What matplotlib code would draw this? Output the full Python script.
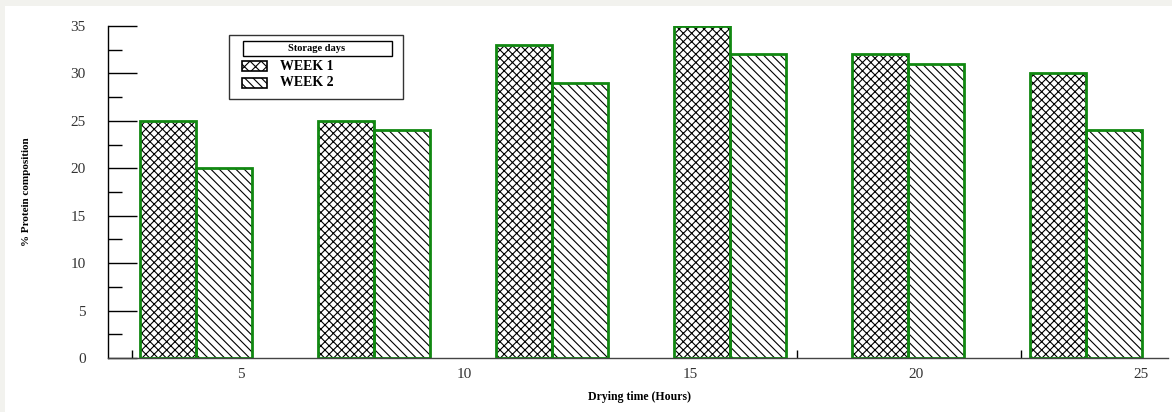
import matplotlib.pyplot as plt
from matplotlib.patches import Rectangle
import numpy as np

plt.rcParams['font.family'] = ['Liberation Serif', 'DejaVu Serif']

# data
groups = np.arange(6)
week1 = [25, 25, 33, 35, 32, 30]
week2 = [20, 24, 29, 32, 31, 24]
hour_labels = ["5", "10", "15", "20", "25"]
hour_pos = [0.253, 1.506, 2.775, 4.045, 5.31]
bottom_ticks = [-0.36, 1.506, 3.376, 4.635]

W, H = 1172, 412
fig = plt.figure(figsize=(W / 100, H / 100), dpi=100, facecolor='#f2f2ee')


def fx(px):
    return px / W


def fy(py):
    return 1 - py / H


# white page area
fig.patches.append(Rectangle((fx(5), 0), 1, fy(6), transform=fig.transFigure,
                             facecolor='white', edgecolor='none', zorder=-1))

ax = fig.add_axes([fx(108), fy(358), (1168 - 108) / W, (358 - 26) / H])
ax.set_facecolor('none')

bw = 0.315
green = '#118811'
plt.rcParams['hatch.linewidth'] = 0.8
hatch1 = 'xxxx'
hatch2 = '\\\\\\\\'

# hatched fill (black), then green outline on top
ax.bar(groups - bw / 2, week1, bw, facecolor='white', edgecolor='black', linewidth=0, hatch=hatch1)
ax.bar(groups + bw / 2, week2, bw, facecolor='white', edgecolor='black', linewidth=0, hatch=hatch2)
ax.bar(groups - bw / 2, week1, bw, fill=False, edgecolor=green, linewidth=2)
ax.bar(groups + bw / 2, week2, bw, fill=False, edgecolor=green, linewidth=2)

ax.set_xlim(-0.494, 5.46)
ax.set_ylim(0, 35)
ax.set_yticks(np.arange(0, 36, 5))
ax.set_yticks(np.arange(2.5, 35, 5), minor=True)
ax.tick_params(axis='y', which='major', direction='in', length=21, width=1, pad=16, labelsize=11, labelcolor='#333333')
ax.tick_params(axis='y', which='minor', direction='in', length=10, width=1)

ax.set_xticks(hour_pos)
ax.set_xticklabels(hour_labels)
ax.tick_params(axis='x', which='major', length=0, pad=7, labelsize=11, labelcolor='#333333')
ax.set_xticks(bottom_ticks, minor=True)
ax.tick_params(axis='x', which='minor', direction='in', length=6, width=1)

for s in ['top', 'right']:
    ax.spines[s].set_visible(False)
ax.spines['left'].set_linewidth(1)
ax.spines['bottom'].set_linewidth(1)
ax.spines['bottom'].set_color('#444444')

fig.text(fx(27), fy(192), "% Protein composition", rotation=90, ha='center', va='center',
         fontsize=8, fontweight='bold')
fig.text(fx(640), fy(397), "Drying time (Hours)", ha='center', va='center',
         fontsize=8.5, fontweight='bold')

# legend drawn by hand
def frect(x0, y0, x1, y1, **kw):
    r = Rectangle((fx(x0), fy(y1)), fx(x1) - fx(x0), fy(y0) - fy(y1), transform=fig.transFigure, **kw)
    fig.patches.append(r)


frect(229, 35, 403, 99, facecolor='white', edgecolor='#333333', linewidth=1)
frect(243, 41, 392, 56, facecolor='white', edgecolor='black', linewidth=1)
fig.text(fx(317), fy(48.5), "Storage days", ha='center', va='center', fontsize=7.5, fontweight='bold')
frect(242, 61, 267, 71, facecolor='white', edgecolor='black', linewidth=1.2, hatch='xxx')
frect(242, 78, 267, 88, facecolor='white', edgecolor='black', linewidth=1.2, hatch=hatch2)
fig.text(fx(280), fy(66), "WEEK 1", ha='left', va='center', fontsize=10, fontweight='bold')
fig.text(fx(280), fy(83), "WEEK 2", ha='left', va='center', fontsize=10, fontweight='bold')

fig.savefig("out.png", dpi=100, facecolor=fig.get_facecolor())
